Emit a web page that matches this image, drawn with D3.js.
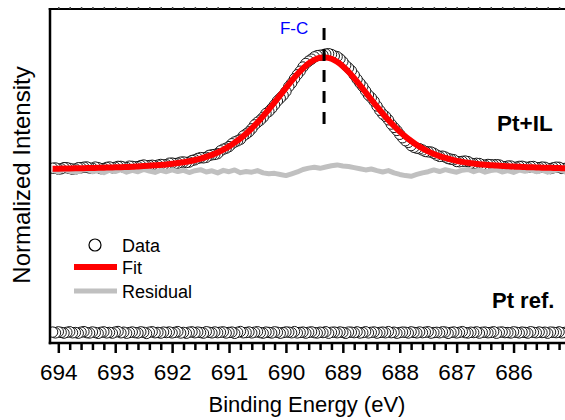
<!DOCTYPE html>
<html>
<head>
<meta charset="utf-8">
<script src="https://cdn.jsdelivr.net/npm/d3@7"></script>
<style>
  html, body { margin: 0; padding: 0; background: #fff; }
  svg { display: block; font-family: "Liberation Sans", Arial, Helvetica, sans-serif; }
</style>
</head>
<body>
<svg id="chart" width="565" height="420"></svg>
<script>
// F 1s spectra: energy grid (eV, descending)
const energyStart = 694.1;
const dataStep = 0.05;
const fitStep = 0.1;

// Pt+IL measured intensity (normalized, 0.05 eV steps)
const ptIlData = [
  0.025,0.027,0.017,0.020,0.030,0.029,0.023,0.016,0.018,0.029,
  0.029,0.034,0.036,0.027,0.024,0.035,0.030,0.021,0.022,0.032,
  0.036,0.029,0.033,0.041,0.041,0.034,0.031,0.043,0.041,0.036,
  0.039,0.048,0.053,0.045,0.048,0.051,0.044,0.052,0.058,0.054,
  0.055,0.069,0.070,0.066,0.069,0.078,0.080,0.075,0.079,0.093,
  0.099,0.111,0.118,0.116,0.121,0.138,0.143,0.146,0.153,0.178,
  0.192,0.201,0.215,0.240,0.256,0.266,0.279,0.309,0.326,0.345,
  0.372,0.406,0.429,0.448,0.473,0.506,0.524,0.551,0.582,0.616,
  0.641,0.666,0.699,0.742,0.773,0.812,0.847,0.878,0.915,0.946,
  0.967,0.984,1.004,1.015,1.018,1.021,1.029,1.032,1.025,1.012,
  1.006,0.987,0.962,0.930,0.907,0.882,0.845,0.808,0.774,0.744,
  0.705,0.669,0.645,0.614,0.572,0.534,0.502,0.481,0.451,0.413,
  0.384,0.357,0.323,0.293,0.267,0.252,0.224,0.209,0.201,0.196,
  0.185,0.172,0.169,0.167,0.156,0.140,0.129,0.131,0.123,0.110,
  0.104,0.100,0.084,0.082,0.085,0.088,0.083,0.069,0.064,0.068,
  0.066,0.055,0.051,0.058,0.055,0.054,0.056,0.053,0.041,0.037,
  0.044,0.044,0.033,0.034,0.041,0.042,0.035,0.032,0.039,0.040,
  0.029,0.030,0.035,0.033,0.023,0.022,0.029,0.034,0.033,0.023,
  0.023,0.029,0.027
];

// Pt reference: flat, no F 1s signal (0.05 eV steps)
const ptRefData = [
  0.004,-0.003,0.006,0.001,-0.005,0.002,0.007,-0.002,0.000,-0.006,
  0.003,0.008,-0.001,-0.004,0.005,0.000,-0.007,0.002,0.006,-0.003,
  0.001,-0.005,0.004,0.009,-0.002,0.003,-0.006,0.000,0.005,-0.001,
  -0.004,0.006,0.002,-0.008,0.003,0.007,-0.002,0.001,-0.005,0.004,
  0.000,0.005,-0.003,0.002,0.008,-0.004,0.001,-0.006,0.003,0.006,
  -0.002,0.004,0.000,-0.005,0.007,0.002,-0.003,0.005,-0.001,0.003,
  0.006,-0.004,0.001,0.004,-0.007,0.002,0.009,-0.002,0.000,0.005,
  -0.003,0.003,0.007,-0.001,-0.005,0.004,0.001,-0.004,0.006,0.002,
  -0.006,0.000,0.005,0.003,-0.002,0.008,-0.003,0.001,0.004,-0.005,
  0.002,0.006,-0.001,-0.004,0.003,0.000,0.007,-0.006,0.002,0.004,
  -0.002,0.005,0.001,-0.007,0.004,0.003,-0.001,0.006,-0.004,0.000,
  0.007,-0.003,0.002,0.005,-0.005,0.001,0.004,-0.002,0.008,-0.001,
  0.003,-0.006,0.000,0.004,0.002,-0.004,0.006,0.001,-0.003,0.005,
  -0.001,0.003,0.007,-0.005,0.000,0.002,-0.002,0.006,0.004,-0.007,
  0.001,0.005,-0.003,0.002,0.008,-0.001,-0.004,0.003,0.000,0.006,
  -0.005,0.002,0.004,-0.002,0.001,0.007,-0.006,0.003,0.005,-0.001,
  0.000,-0.004,0.006,0.002,-0.003,0.004,0.001,-0.005,0.007,0.002,
  -0.002,0.005,0.000,0.003,-0.006,0.004,0.002,-0.001,0.006,-0.003,
  0.001,0.004,-0.002
];

// Peak fit of Pt+IL (0.1 eV steps)
const ptIlFit = [
  0.020,0.021,0.022,0.023,0.024,0.025,0.026,0.027,0.028,0.030,
  0.031,0.033,0.034,0.036,0.038,0.041,0.044,0.047,0.050,0.054,
  0.058,0.064,0.070,0.077,0.086,0.097,0.110,0.125,0.142,0.163,
  0.188,0.217,0.250,0.287,0.329,0.376,0.427,0.483,0.542,0.604,
  0.667,0.731,0.793,0.851,0.903,0.947,0.978,0.996,
  0.999,0.987,0.961,0.922,0.873,0.817,0.756,0.693,0.629,0.566,
  0.506,0.449,0.396,0.347,0.303,0.264,0.229,0.199,0.173,0.150,
  0.131,0.115,0.102,0.090,0.081,0.073,0.066,0.060,0.056,0.052,
  0.048,0.045,0.042,0.040,0.037,0.035,0.033,0.032,0.030,0.029,0.027,0.026,0.025,0.024
];

// Fit residual (0.1 eV steps)
const ptIlResidual = [
  0.010,-0.008,0.014,-0.002,-0.012,0.006,0.016,-0.006,0.004,-0.014,
  0.008,-0.004,0.012,-0.010,0.006,-0.006,0.015,0.000,-0.012,0.007,
  -0.006,0.011,-0.004,0.006,-0.013,0.003,0.012,-0.008,0.002,-0.016,
  0.006,-0.006,0.010,-0.014,-0.004,-0.010,0.004,-0.016,-0.024,-0.020,
  -0.030,-0.040,-0.024,-0.008,0.014,0.026,0.034,0.024,0.036,0.046,
  0.054,0.044,0.040,0.030,0.020,0.010,0.018,0.004,-0.008,0.004,
  -0.016,-0.030,-0.040,-0.046,-0.030,-0.016,-0.006,0.010,-0.004,0.012,
  0.000,-0.010,0.008,0.014,-0.006,0.010,-0.010,0.004,0.012,-0.008,
  0.004,-0.012,0.008,-0.002,0.010,-0.006,0.008,-0.010,0.003,0.011,-0.004,0.006
];

const xMajorTicks = [694, 693, 692, 691, 690, 689, 688, 687, 686];
const peakPosition = 689.33;
const peakLabel = "F-C";
const stackOffset = 1.42;   // vertical shift of the Pt+IL trace above Pt ref.
const legendItems = ["Data", "Fit", "Residual"];
const sampleLabels = ["Pt+IL", "Pt ref."];
const xTitle = "Binding Energy (eV)";
const yTitle = "Normalized Intensity";

const svg = d3.select("#chart");
const plotLeft = 50, plotRight = 575, plotTop = 9, plotBottom = 343;

const x = d3.scaleLinear().domain([694.146, 684.92]).range([plotLeft, plotRight]);
const y = d3.scaleLinear().domain([-0.092, 2.845]).range([plotBottom, plotTop]);

const dataE = d3.range(ptIlData.length).map(i => energyStart - i * dataStep);
const fitE = d3.range(ptIlFit.length).map(i => energyStart - i * fitStep);

svg.append("defs").append("clipPath").attr("id", "plotClip")
  .append("rect").attr("x", plotLeft).attr("y", plotTop)
  .attr("width", plotRight - plotLeft).attr("height", plotBottom - plotTop);

const plot = svg.append("g").attr("clip-path", "url(#plotClip)");

// Pt ref. data points (drawn from low to high binding energy)
const refIdx = d3.range(ptRefData.length).reverse();
plot.append("g").selectAll("circle").data(refIdx).join("circle")
  .attr("cx", i => x(dataE[i]))
  .attr("cy", i => y(ptRefData[i]))
  .attr("r", 5.2)
  .attr("fill", "#fff").attr("stroke", "#000").attr("stroke-width", 0.9);

// Pt+IL data points
const ilIdx = d3.range(ptIlData.length).reverse();
plot.append("g").selectAll("circle").data(ilIdx).join("circle")
  .attr("cx", i => x(dataE[i]))
  .attr("cy", i => y(ptIlData[i] + stackOffset))
  .attr("r", 5.2)
  .attr("fill", "#fff").attr("stroke", "#000").attr("stroke-width", 0.9);

// Residual
plot.append("path")
  .datum(d3.range(ptIlResidual.length))
  .attr("fill", "none").attr("stroke", "#c0c0c0").attr("stroke-width", 5)
  .attr("stroke-linejoin", "round")
  .attr("d", d3.line().x(i => x(fitE[i])).y(i => y(ptIlResidual[i] + stackOffset)));

// Fit
plot.append("path")
  .datum(d3.range(ptIlFit.length))
  .attr("fill", "none").attr("stroke", "#ff0000").attr("stroke-width", 6)
  .attr("stroke-linejoin", "round")
  .attr("d", d3.line().curve(d3.curveMonotoneX).x(i => x(fitE[i])).y(i => y(ptIlFit[i] + stackOffset)));

// Peak position marker
svg.append("line")
  .attr("x1", x(peakPosition)).attr("x2", x(peakPosition))
  .attr("y1", 28).attr("y2", 124)
  .attr("stroke", "#000").attr("stroke-width", 3).attr("stroke-dasharray", "12,9");
svg.append("text")
  .attr("x", x(peakPosition) - 30).attr("y", 34)
  .attr("text-anchor", "middle").attr("font-size", 17).attr("fill", "#0000ff")
  .text(peakLabel);

// Frame
svg.append("line").attr("x1", plotLeft).attr("x2", plotLeft).attr("y1", plotTop - 1).attr("y2", plotBottom + 1.25)
  .attr("stroke", "#000").attr("stroke-width", 2.5);
svg.append("line").attr("x1", plotLeft - 1.25).attr("x2", 565).attr("y1", plotTop).attr("y2", plotTop)
  .attr("stroke", "#000").attr("stroke-width", 2);
svg.append("line").attr("x1", plotLeft - 1.25).attr("x2", 565).attr("y1", plotBottom).attr("y2", plotBottom)
  .attr("stroke", "#000").attr("stroke-width", 2.5);

// Axis ticks
const xMinorTicks = d3.range(6940, 6848, -2).map(v => v / 10).filter(v => !xMajorTicks.includes(v));

const bottomAxis = svg.append("g").attr("transform", `translate(0,${plotBottom + 1})`)
  .call(d3.axisBottom(x).tickValues(xMajorTicks).tickSize(9).tickPadding(11).tickFormat(d3.format("d")));
bottomAxis.select(".domain").remove();
bottomAxis.selectAll(".tick line").attr("stroke-width", 2.5);
bottomAxis.selectAll(".tick text").attr("font-size", 22.5).attr("font-family", null).attr("fill", "#000");

const bottomMinor = svg.append("g").attr("transform", `translate(0,${plotBottom + 1})`)
  .call(d3.axisBottom(x).tickValues(xMinorTicks).tickSize(6).tickFormat(""));
bottomMinor.select(".domain").remove();
bottomMinor.selectAll(".tick line").attr("stroke-width", 2.5);

const topMinor = svg.append("g").attr("transform", `translate(0,${plotTop})`)
  .call(d3.axisTop(x).tickValues(xMajorTicks.concat(xMinorTicks)).tickSize(2).tickFormat(""));
topMinor.select(".domain").remove();
topMinor.selectAll(".tick line").attr("stroke-width", 1.5).attr("stroke", "#444");

// Axis titles
svg.append("text").attr("x", 307).attr("y", 412)
  .attr("text-anchor", "middle").attr("font-size", 22).text(xTitle);
svg.append("text")
  .attr("transform", "translate(30,175) rotate(-90)")
  .attr("text-anchor", "middle").attr("font-size", 24).text(yTitle);

// Sample labels
svg.append("text").attr("x", 497).attr("y", 131).attr("font-size", 22.5)
  .attr("font-weight", "bold").text(sampleLabels[0]);
svg.append("text").attr("x", 492).attr("y", 308).attr("font-size", 22)
  .attr("font-weight", "bold").text(sampleLabels[1]);

// Legend
const legend = svg.append("g").attr("font-size", 18);
const legendRows = [245, 267, 291];
legend.append("circle").attr("cx", 95).attr("cy", legendRows[0]).attr("r", 6)
  .attr("fill", "#fff").attr("stroke", "#000").attr("stroke-width", 1.2);
legend.append("line").attr("x1", 74).attr("x2", 117).attr("y1", legendRows[1]).attr("y2", legendRows[1])
  .attr("stroke", "#ff0000").attr("stroke-width", 6);
legend.append("line").attr("x1", 74).attr("x2", 117).attr("y1", legendRows[2]).attr("y2", legendRows[2])
  .attr("stroke", "#c0c0c0").attr("stroke-width", 5);
legend.selectAll("text").data(legendItems).join("text")
  .attr("x", 122).attr("y", (d, i) => legendRows[i] + 6.5)
  .text(d => d);
</script>
</body>
</html>
